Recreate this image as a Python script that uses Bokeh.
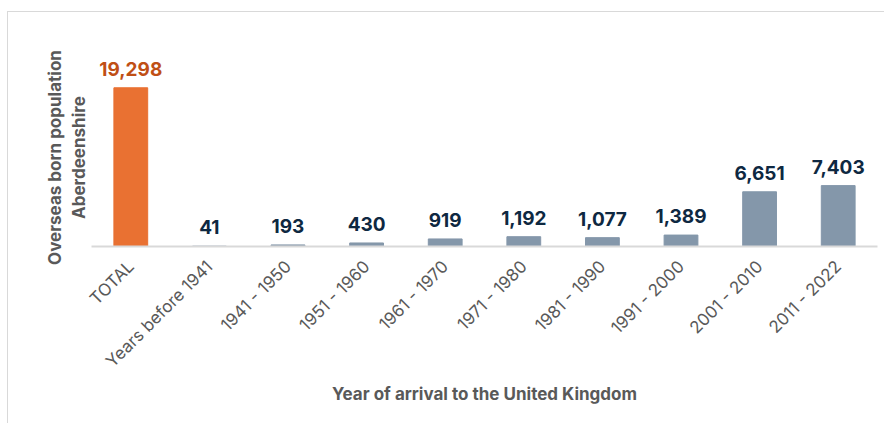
from math import pi
from bokeh.plotting import figure
from bokeh.models import ColumnDataSource, LabelSet, FactorRange, FixedTicker
from bokeh.core.properties import value
from bokeh.embed import file_html
from bokeh.resources import INLINE

categories = ["TOTAL", "Years before 1941", "1941 - 1950", "1951 - 1960", "1961 - 1970",
              "1971 - 1980", "1981 - 1990", "1991 - 2000", "2001 - 2010", "2011 - 2022"]
values = [19298, 41, 193, 430, 919, 1192, 1077, 1389, 6651, 7403]
bar_colors = ["#E97132"] + ["#8497AA"] * 9
label_colors = ["#C04F15"] + ["#0E2841"] * 9
value_text = [f"{v:,}" for v in values]

src = ColumnDataSource(dict(cat=categories, val=values, color=bar_colors,
                            lcolor=label_colors, txt=value_text))

p = figure(x_range=FactorRange(*categories), y_range=(0, 23100),
           width=877, height=412, output_backend="svg", toolbar_location=None,
           min_border_left=83, min_border_right=8, min_border_top=44, min_border_bottom=178)
p.styles = {"border-left": "1px solid #d9d9d9", "border-top": "1px solid #d9d9d9",
            "margin-left": "7px", "margin-top": "11px"}
p.outline_line_color = None
p.xgrid.visible = False
p.ygrid.visible = False

p.vbar(x="cat", top="val", width=0.43, color="color", source=src)

labels = LabelSet(x="cat", y="val", text="txt", source=src, text_color="lcolor",
                  text_font=value("Inter"), text_font_style="bold", text_font_size="19px",
                  text_align="center", text_baseline="alphabetic", y_offset=12)
p.add_layout(labels)

pad = "\u00a0" * 3
ya = p.yaxis[0]
ya.ticker = FixedTicker(ticks=[])
ya.axis_line_color = None
ya.major_tick_line_color = None
ya.minor_tick_line_color = None
ya.major_label_standoff = 0
ya.axis_label = "Overseas born population" + pad + "\nAberdeenshire" + pad
ya.axis_label_text_font = "Inter"
ya.axis_label_text_font_style = "bold"
ya.axis_label_text_font_size = "17px"
ya.axis_label_text_color = "#595959"
ya.axis_label_standoff = 3

ax = p.xaxis[0]
ax.axis_line_color = "#D9D9D9"
ax.axis_line_width = 2
ax.major_tick_line_color = None
ax.minor_tick_line_color = None
ax.major_label_orientation = pi / 4
ax.major_label_text_font = "Inter"
ax.major_label_text_font_size = "17px"
ax.major_label_text_color = "#595959"
ax.major_label_standoff = 11
ax.axis_label = "Year of arrival to the United Kingdom"
ax.axis_label_text_font = "Inter"
ax.axis_label_text_font_style = "bold"
ax.axis_label_text_font_size = "17px"
ax.axis_label_text_color = "#595959"
ax.axis_label_standoff = 3

open("out.html", "w").write(file_html(p, INLINE))
